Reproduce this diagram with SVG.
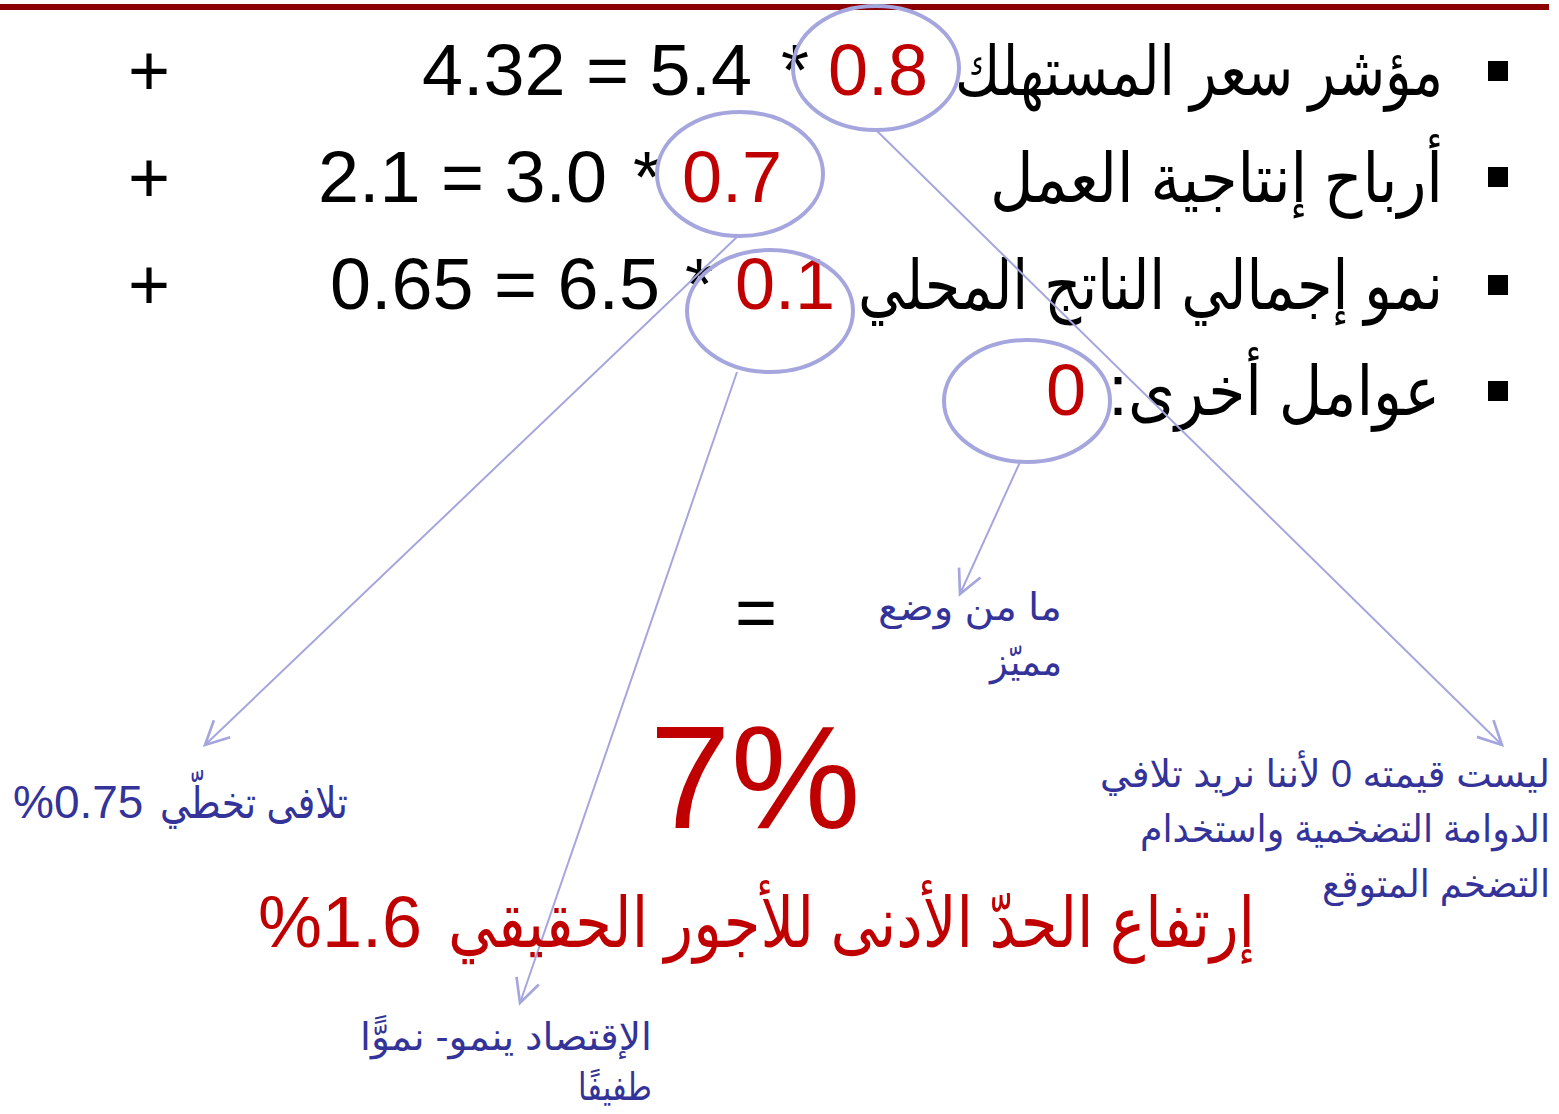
<svg xmlns="http://www.w3.org/2000/svg" width="1559" height="1114" viewBox="0 0 1559 1114">
<defs>
<style>
text{font-family:"Liberation Sans","DejaVu Sans",sans-serif;}
.row{font-size:72px;fill:#000;}
.ar{font-size:68px;fill:#000;}
.red{fill:#C00000;}
.blue{fill:#333399;font-size:38px;}
.ell{fill:none;stroke:#A6A6DE;stroke-width:4;}
.con{fill:none;stroke:#A6A6DE;stroke-width:2;marker-end:url(#arr);}
</style>
<marker id="arr" markerUnits="userSpaceOnUse" markerWidth="30" markerHeight="30" viewBox="-24 -13 28 26" refX="0" refY="0" orient="auto">
<path d="M-22,-11 L0,0 L-22,11" fill="none" stroke="#A6A6DE" stroke-width="2.5"/>
</marker>
</defs>
<rect x="0" y="4" width="1549" height="6" fill="#8B0000"/>

<g id="row1">
<rect x="1488" y="61" width="20" height="20" fill="#000"/>
<text class="ar" x="1443" y="95" text-anchor="end" textLength="488" lengthAdjust="spacingAndGlyphs">مؤشر سعر المستهلك</text>
<text class="row red" x="828" y="95">0.8</text>
<text class="row" x="781" y="95">*</text>
<text class="row" x="422" y="95" textLength="330" lengthAdjust="spacingAndGlyphs">4.32 = 5.4</text>
<text class="row" x="128" y="95">+</text>
</g>
<g id="row2">
<rect x="1488" y="167" width="20" height="20" fill="#000"/>
<text class="ar" x="1443" y="202" text-anchor="end" textLength="453" lengthAdjust="spacingAndGlyphs">أرباح إنتاجية العمل</text>
<text class="row red" x="682" y="202">0.7</text>
<text class="row" x="633" y="202">*</text>
<text class="row" x="318" y="202" textLength="289" lengthAdjust="spacingAndGlyphs">2.1 = 3.0</text>
<text class="row" x="128" y="202">+</text>
</g>
<g id="row3">
<rect x="1488" y="275" width="20" height="20" fill="#000"/>
<text class="ar" x="1443" y="309" text-anchor="end" textLength="585" lengthAdjust="spacingAndGlyphs">نمو إجمالي الناتج المحلي</text>
<text class="row red" x="735" y="309">0.1</text>
<text class="row" x="685" y="309">*</text>
<text class="row" x="330" y="309" textLength="330" lengthAdjust="spacingAndGlyphs">0.65 = 6.5</text>
<text class="row" x="128" y="309">+</text>
</g>
<g id="row4">
<rect x="1488" y="381" width="20" height="20" fill="#000"/>
<text class="ar" x="1440" y="415" text-anchor="end" textLength="312" lengthAdjust="spacingAndGlyphs">عوامل أخرى</text>
<text class="row" x="1108" y="415">:</text>
<text class="row red" x="1046" y="415">0</text>
</g>

<g id="ellipse-08"><ellipse class="ell" cx="876" cy="68" rx="83" ry="62"/></g>
<g id="ellipse-07"><ellipse class="ell" cx="740" cy="174" rx="83" ry="62"/></g>
<g id="ellipse-01"><ellipse class="ell" cx="770" cy="311" rx="83" ry="61"/></g>
<g id="ellipse-0"><ellipse class="ell" cx="1027" cy="401" rx="83" ry="61"/></g>

<g id="connectors">
<line class="con" x1="876" y1="130" x2="1502" y2="745"/>
<line class="con" x1="738" y1="236" x2="205" y2="745"/>
<line class="con" x1="737" y1="372" x2="520" y2="1003"/>
<line class="con" x1="1020" y1="462" x2="960" y2="594"/>
</g>

<g id="equals"><text class="row" x="756" y="637" text-anchor="middle">=</text></g>
<g id="result"><text class="red" x="755" y="828" font-size="146" text-anchor="middle">7%</text></g>
<g id="minwage">
<text class="red" x="1255" y="947" font-size="70" text-anchor="end" textLength="807" lengthAdjust="spacingAndGlyphs">إرتفاع الحدّ الأدنى للأجور الحقيقي</text>
<text class="red" x="258" y="947" font-size="72">%1.6</text>
</g>
<g id="note-075">
<text class="blue" x="348" y="818" text-anchor="end" style="font-size:44px" textLength="188" lengthAdjust="spacingAndGlyphs">تلافى تخطّي</text>
<text class="blue" x="13" y="818" style="font-size:46px">%0.75</text>
</g>
<g id="note-08">
<text class="blue" x="1550" y="787" text-anchor="end" textLength="450" lengthAdjust="spacingAndGlyphs">ليست قيمته 0 لأننا نريد تلافي</text>
<text class="blue" x="1550" y="842" text-anchor="end" textLength="410" lengthAdjust="spacingAndGlyphs">الدوامة التضخمية واستخدام</text>
<text class="blue" x="1550" y="897" text-anchor="end" textLength="228" lengthAdjust="spacingAndGlyphs">التضخم المتوقع</text>
</g>
<g id="note-0">
<text class="blue" x="1062" y="620" text-anchor="end" textLength="184" lengthAdjust="spacingAndGlyphs">ما من وضع</text>
<text class="blue" x="1062" y="675" text-anchor="end" textLength="72" lengthAdjust="spacingAndGlyphs">مميّز</text>
</g>
<g id="note-01">
<text class="blue" x="652" y="1050" text-anchor="end" textLength="292" lengthAdjust="spacingAndGlyphs">الإقتصاد ينمو- نموًّا</text>
<text class="blue" x="652" y="1100" text-anchor="end" textLength="74" lengthAdjust="spacingAndGlyphs">طفيفًا</text>
</g>
</svg>
